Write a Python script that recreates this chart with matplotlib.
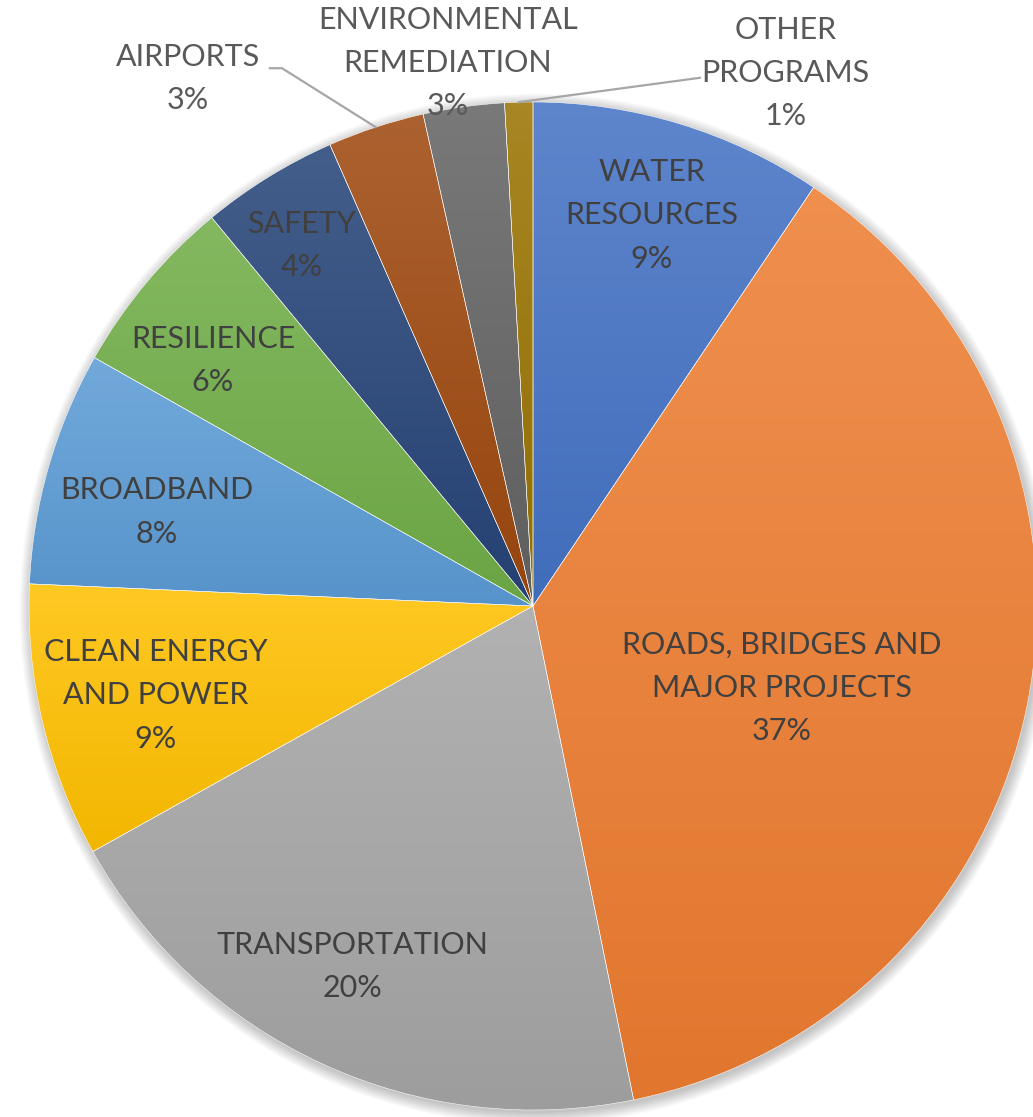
import numpy as np
import matplotlib
matplotlib.use("Agg")
import matplotlib.pyplot as plt
from matplotlib.colors import to_rgb
from matplotlib.patches import Circle

# Data (share of spending, %), clockwise from 12 o'clock
categories = ["WATER\nRESOURCES", "ROADS, BRIDGES AND\nMAJOR PROJECTS", "TRANSPORTATION",
              "CLEAN ENERGY\nAND POWER", "BROADBAND", "RESILIENCE", "SAFETY", "AIRPORTS",
              "ENVIRONMENTAL\nREMEDIATION", "OTHER\nPROGRAMS"]
shares = [9.4, 37.4, 20.1, 8.8, 7.5, 5.8, 4.4, 3.1, 2.6, 0.9]

# Style
colors = ["#4472C4", "#ED7D31", "#A5A5A5", "#FFC000", "#5B9BD5",
          "#70AD47", "#264478", "#9E480E", "#636363", "#997300"]
label_r = [0.81, 0.52, 0.80, 0.77, 0.77, 0.80, 0.85, 1.25, 1.09, 1.17]
label_shift = [0, 7, 2, 0, -2, -2.5, -1, -15, -1, 27]
outside = [False] * 7 + [True] * 3

plt.rcParams["font.family"] = ["Lato", "DejaVu Sans"]

fig = plt.figure(figsize=(10.33, 11.17), dpi=100)
ax = fig.add_axes([0, 0, 1, 1])

# soft shadow behind the pie
for i in range(10):
    ax.add_patch(Circle((0.004, -0.006), 1.0 + 0.0025 * i, color="black",
                        alpha=0.022, lw=0, zorder=0))

wedges, _ = ax.pie(shares, startangle=90, counterclock=False, radius=1.0,
                   wedgeprops=dict(edgecolor="white", linewidth=0.35))

# Excel-like vertical gradient fill for each slice
t = np.linspace(0, 1, 256)[:, None, None]
for w, c in zip(wedges, colors):
    base = np.array(to_rgb(c))
    top = base + (1 - base) * 0.14
    bot = base * 0.95
    img = top * (1 - t) + bot * t
    v = w.get_path().vertices
    x0, y0 = v.min(axis=0)
    x1, y1 = v.max(axis=0)
    im = ax.imshow(img, extent=(x0, x1, y0, y1), origin="upper", aspect="auto",
                   interpolation="bilinear", zorder=1)
    im.set_clip_path(w)
    w.set_facecolor("none")
    w.set_zorder(2)

# labels
cum = np.cumsum([0] + shares[:-1])
for i, (name, s) in enumerate(zip(categories, shares)):
    mid = (cum[i] + s / 2) / 100 * 360
    th = np.deg2rad(mid + label_shift[i])
    x, y = label_r[i] * np.sin(th), label_r[i] * np.cos(th)
    col = "#595959" if outside[i] else "#404040"
    ax.text(x, y, f"{name}\n{round(s)}%", ha="center", va="center", fontsize=22,
            color=col, linespacing=1.66, zorder=5)

# leader lines for airports and other programs
for i, elbow, end in [(7, (-0.498, 1.067), (-0.522, 1.067)), (9, (0.331, 1.048), (0.331, 1.048))]:
    mid = np.deg2rad((cum[i] + shares[i] / 2) / 100 * 360)
    ex, ey = np.sin(mid), np.cos(mid)
    ax.plot([ex, elbow[0], end[0]], [ey, elbow[1], end[1]], color="#A6A6A6", lw=1.6, zorder=4)

ax.set_aspect("auto")
ax.set_xlim(-533 / 504, 500 / 504)
ax.set_ylim(-511 / 504, 606 / 504)
ax.axis("off")

fig.savefig("out.png", dpi=100, facecolor="white")
